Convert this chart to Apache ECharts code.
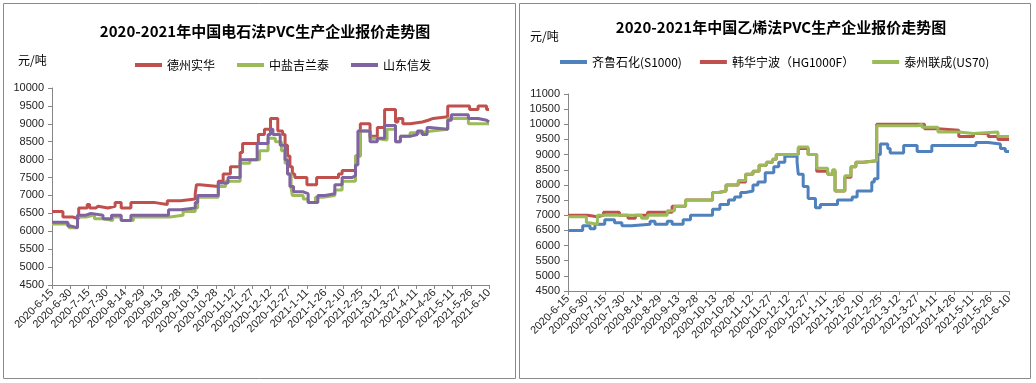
<!DOCTYPE html>
<html>
<head>
<meta charset="utf-8">
<script src="https://cdn.jsdelivr.net/npm/echarts@6/dist/echarts.min.js"></script>
<style>
html,body{margin:0;padding:0;background:#fff;}
#c{width:1036px;height:383px;}
</style>
</head>
<body>
<div id="c"></div>
<script>
// x values are days since 2020-06-15 (each entry: [day, price] where the price changes)
const xTickLabels = ['2020-6-15','2020-6-30','2020-7-15','2020-7-30','2020-8-14','2020-8-29','2020-9-13','2020-9-28','2020-10-13','2020-10-28','2020-11-12','2020-11-27','2020-12-12','2020-12-27','2021-1-11','2021-1-26','2021-2-10','2021-2-25','2021-3-12','2021-3-27','2021-4-11','2021-4-26','2021-5-11','2021-5-26','2021-6-10'];

const leftTitle = '2020-2021年中国电石法PVC生产企业报价走势图';
const rightTitle = '2020-2021年中国乙烯法PVC生产企业报价走势图';
const leftNames = ['德州实华','中盐吉兰泰','山东信发'];
const rightNames = ['齐鲁石化(S1000)','韩华宁波（HG1000F）','泰州联成(US70)'];

const dezhouShihua = [[0,6550],[9,6400],[17,6350],[22,6650],[29,6750],[31,6650],[36,6700],[38,6650],[46,6700],[52,6800],[57,6650],[65,6800],[72,6750],[73,6800],[85,6750],[95,6850],[106,6900],[118,7050],[119,7300],[122,7250],[137,7400],[141,7600],[147,7800],[155,8200],[157,8450],[170,8700],[175,8850],[180,9150],[186,8800],[190,8700],[192,8400],[194,8100],[196,7800],[198,7600],[200,7500],[210,7300],[218,7500],[236,7600],[239,7700],[250,8100],[254,9000],[262,8650],[268,8900],[274,9400],[283,9050],[285,9150],[289,9000],[295,9050],[305,9000],[306,9100],[310,9150],[314,9200],[326,9500],[344,9400],[351,9500],[358,9400],[360,9400]];
const zhongyanJilantai = [[0,6200],[14,6100],[21,6400],[28,6450],[35,6350],[42,6300],[50,6400],[57,6300],[67,6400],[97,6450],[108,6550],[118,6650],[120,6950],[137,7250],[143,7400],[155,7900],[163,8000],[171,8250],[178,8600],[184,8500],[189,8250],[192,7900],[194,7600],[197,7200],[198,7000],[207,6900],[211,6800],[217,6950],[223,7000],[233,7150],[239,7400],[250,8100],[254,8800],[262,8600],[266,8550],[276,8850],[283,8500],[287,8650],[295,8750],[303,8800],[313,8850],[326,9150],[343,9000],[360,9000]];
const shandongXinfa = [[0,6250],[13,6150],[15,6100],[21,6450],[28,6500],[32,6450],[42,6350],[49,6450],[57,6300],[65,6450],[96,6600],[106,6650],[118,6800],[120,7000],[137,7350],[145,7500],[155,8000],[169,8450],[178,8700],[180,8850],[182,8700],[188,8400],[192,8000],[194,7600],[196,7250],[199,7100],[207,7050],[211,6800],[219,7000],[225,7050],[233,7300],[239,7500],[247,7550],[250,7850],[252,8800],[262,8500],[268,8600],[274,8950],[283,8500],[287,8650],[295,8700],[301,8800],[305,8700],[309,8900],[311,8850],[326,9100],[329,9250],[343,9150],[351,9100],[358,9050],[360,9050]];

const qiluShihua = [[0,6500],[12,6650],[18,6550],[22,6700],[30,6850],[38,6750],[44,6650],[52,6700],[67,6800],[71,6700],[81,6800],[85,6700],[94,6850],[100,7000],[118,7200],[124,7350],[131,7500],[136,7600],[141,7750],[145,7800],[151,8000],[155,8100],[161,8400],[168,8600],[172,8750],[177,8950],[187,8750],[188,8350],[192,7950],[196,7550],[202,7250],[206,7350],[220,7500],[232,7600],[236,7800],[248,8100],[250,8200],[253,9000],[255,9350],[261,9200],[263,9050],[274,9300],[285,9100],[297,9300],[333,9400],[343,9350],[353,9200],[357,9100],[360,9100]];
const hanhuaNingbo = [[0,7000],[16,6950],[24,7000],[29,7100],[42,7000],[49,6900],[55,7000],[65,7100],[85,7300],[96,7500],[118,7750],[123,7800],[129,8000],[139,8100],[145,8350],[151,8450],[156,8650],[162,8750],[167,8850],[170,9000],[188,9200],[196,9000],[203,8450],[212,8350],[216,8450],[218,7800],[226,8250],[231,8600],[235,8750],[241,8800],[252,10000],[289,10000],[291,9850],[302,9800],[319,9600],[331,9700],[343,9600],[351,9500],[360,9500]];
const taizhouLiancheng = [[0,6950],[15,6750],[17,6700],[24,7000],[60,6900],[65,7000],[81,7150],[87,7300],[96,7500],[118,7750],[123,7800],[129,8000],[139,8150],[145,8350],[151,8450],[156,8650],[162,8750],[167,8850],[170,9000],[188,9250],[196,9000],[203,8550],[212,8350],[216,8500],[218,7800],[226,8300],[231,8600],[235,8750],[241,8800],[252,9950],[285,10000],[289,9900],[302,9750],[319,9700],[331,9750],[351,9600],[360,9600]];

const FONT = '"Liberation Sans","Noto Sans CJK SC",sans-serif';
const CJK = '"Noto Sans CJK SC","Liberation Sans",sans-serif';

function xAxisCfg(gi){
  return {
    type:'value', gridIndex:gi, min:0, max:360, interval:15,
    axisLine:{show:true,lineStyle:{color:'#868686',width:1}},
    axisTick:{show:true,length:4,lineStyle:{color:'#868686'}},
    splitLine:{show:false},
    axisLabel:{rotate:45, fontSize:11, color:'#222', fontFamily:FONT, margin:6, hideOverlap:false,
      formatter:function(v){return xTickLabels[Math.round(v/15)];}}
  };
}
function yAxisCfg(gi,min,max){
  return {
    type:'value', gridIndex:gi, min:min, max:max, interval:500,
    axisLine:{show:true,lineStyle:{color:'#868686',width:1}},
    axisTick:{show:true,length:4,lineStyle:{color:'#868686'}},
    splitLine:{show:false},
    axisLabel:{fontSize:11, color:'#222', fontFamily:FONT, margin:8,
      formatter:function(v){return String(v);}}
  };
}
function line(name,data,color,gi){
  return {name:name,type:'line',xAxisIndex:gi,yAxisIndex:gi,data:data,step:'end',
    symbol:'none',lineStyle:{color:color,width:3},itemStyle:{color:color},animation:false};
}

const chart = echarts.init(document.getElementById('c'),null,{renderer:'canvas'});
chart.setOption({
  backgroundColor:'#fff',
  animation:false,
  title:[
    {text:leftTitle,left:260,top:19,textAlign:'center',textStyle:{fontSize:15,fontWeight:'bold',color:'#000',fontFamily:CJK}},
    {text:rightTitle,left:776,top:15,textAlign:'center',textStyle:{fontSize:15,fontWeight:'bold',color:'#000',fontFamily:CJK}}
  ],
  legend:[
    {data:leftNames,left:130,top:54,icon:'rect',itemWidth:27,itemHeight:4,itemGap:22,
      textStyle:{fontSize:12,color:'#000',fontFamily:CJK}},
    {data:rightNames,left:555,top:51,icon:'rect',itemWidth:27,itemHeight:4,itemGap:18,
      textStyle:{fontSize:12,color:'#000',fontFamily:CJK}}
  ],
  grid:[
    {left:52,right:547,top:88,bottom:98},
    {left:568,right:27,top:94,bottom:92}
  ],
  xAxis:[xAxisCfg(0),xAxisCfg(1)],
  yAxis:[yAxisCfg(0,4500,10000),yAxisCfg(1,4500,11000)],
  series:[
    line(leftNames[0],dezhouShihua,'#C0504D',0),
    line(leftNames[1],zhongyanJilantai,'#9BBB59',0),
    line(leftNames[2],shandongXinfa,'#8064A2',0),
    line(rightNames[0],qiluShihua,'#4F81BD',1),
    line(rightNames[1],hanhuaNingbo,'#C0504D',1),
    line(rightNames[2],taizhouLiancheng,'#9BBB59',1)
  ],
  graphic:[
    {type:'rect',shape:{x:3.5,y:3.5,width:512,height:375},style:{fill:'none',stroke:'#8a8a8a',lineWidth:1},silent:true},
    {type:'rect',shape:{x:519.5,y:3.5,width:511,height:375},style:{fill:'none',stroke:'#8a8a8a',lineWidth:1},silent:true},
    {type:'text',left:18,top:54,style:{text:'元/吨',fontSize:12,fill:'#000',fontFamily:CJK}},
    {type:'text',left:530,top:30,style:{text:'元/吨',fontSize:12,fill:'#000',fontFamily:CJK}}
  ]
});
</script>
</body>
</html>
